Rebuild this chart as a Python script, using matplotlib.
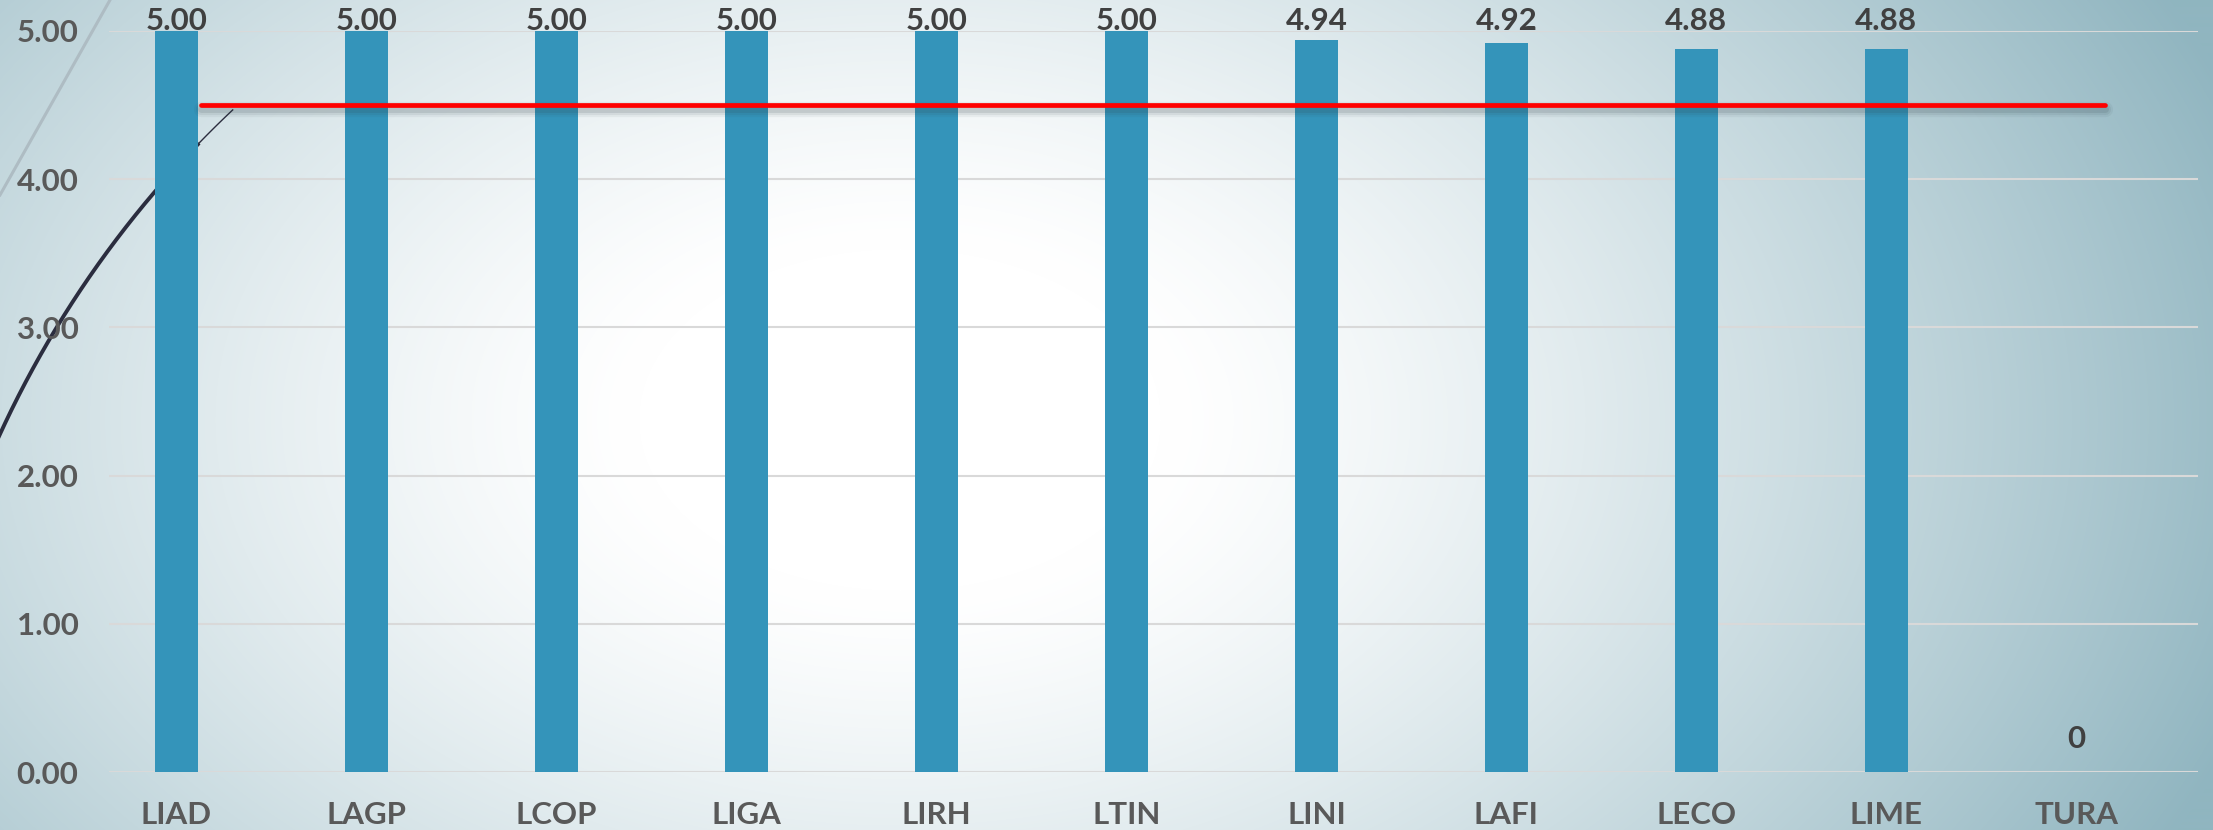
import numpy as np
import matplotlib.pyplot as plt
import matplotlib.patheffects as pe

# datos
categorias = ['LIAD', 'LAGP', 'LCOP', 'LIGA', 'LIRH', 'LTIN', 'LINI', 'LAFI', 'LECO', 'LIME', 'TURA']
valores = [5.00, 5.00, 5.00, 5.00, 5.00, 5.00, 4.94, 4.92, 4.88, 4.88, 0]
etiquetas = ['5.00', '5.00', '5.00', '5.00', '5.00', '5.00', '4.94', '4.92', '4.88', '4.88', '0']
meta = 4.5

W, H = 2213, 830
fig = plt.figure(figsize=(W / 100, H / 100), dpi=100)

# fondo con degradado radial
bg = fig.add_axes([0, 0, 1, 1], zorder=0)
xx, yy = np.meshgrid(np.arange(W), np.arange(H))
t = np.sqrt(((xx - 900) / 1450) ** 2 + ((yy - 420) / 950) ** 2)
t = np.clip((t - 0.18) / 0.8, 0, 1) ** 1.3
borde = np.array([0x90, 0xb5, 0xc0]) / 255
img = np.ones((H, W, 3)) * (1 - t[..., None]) + borde * t[..., None]
bg.imshow(img, extent=(0, W, H, 0), aspect='auto')

# arcos decorativos
cx, cy, R = 948, 869, 1043
th = np.radians(np.linspace(-160, -136, 200))
bg.plot(cx + R * np.cos(th), cy + R * np.sin(th), color='#2b2d3f', lw=2.8)
th2 = np.radians(np.linspace(-136, -133.3, 40))
bg.plot(cx + R * np.cos(th2), cy + R * np.sin(th2), color='#2b2d3f', lw=1.0)
bg.plot([0, 110], [195, 0], color='#aebcc3', lw=2.2)
bg.set_xlim(0, W)
bg.set_ylim(H, 0)
bg.axis('off')

ax = fig.add_axes([109 / W, 1 - 772 / H, (2198 - 109) / W, (772 - 31) / H], zorder=1)
ax.patch.set_alpha(0)
x = np.arange(len(categorias))
ax.bar(x, valores, width=0.226, color='#3494BA', zorder=2)

# linea de meta (forma dibujada encima, con sombra difusa)
sombra = [pe.SimpleLineShadow(offset=(0, -3), shadow_color='#2f3f46', alpha=a, linewidth=w)
          for a, w in [(0.06, 11), (0.08, 8), (0.12, 5)]]
ax.plot([0.13, 10.15], [meta, meta], color='#ff0000', lw=3.4, solid_capstyle='round', zorder=3,
        path_effects=sombra + [pe.Normal()])

# etiquetas de datos
for xi, v, lab in zip(x, valores, etiquetas):
    y = min(v + 0.128, 4.97)
    ax.text(xi, y, lab, ha='center', va='bottom', fontsize=22.5, fontweight='bold',
            family='Lato', color='#404040', clip_on=False, zorder=4)

ax.set_xlim(-0.355, 10.64)
ax.set_ylim(0, 5)
ax.set_yticks(np.arange(0, 5.01, 1))
ax.set_yticklabels([f'{v:.2f}' for v in np.arange(0, 5.01, 1)])
ax.set_xticks(x)
ax.set_xticklabels(categorias)
for lab in ax.get_xticklabels() + ax.get_yticklabels():
    lab.set_family('Lato')
    lab.set_fontweight('bold')
    lab.set_fontsize(22.5)
    lab.set_color('#595959')
ax.tick_params(axis='both', length=0)
ax.tick_params(axis='y', pad=22)
ax.tick_params(axis='x', pad=21)
ax.grid(axis='y', color='#d9d9d9', lw=1.5, zorder=1)
for s in ax.spines.values():
    s.set_visible(False)

fig.savefig('out.png', dpi=100)
